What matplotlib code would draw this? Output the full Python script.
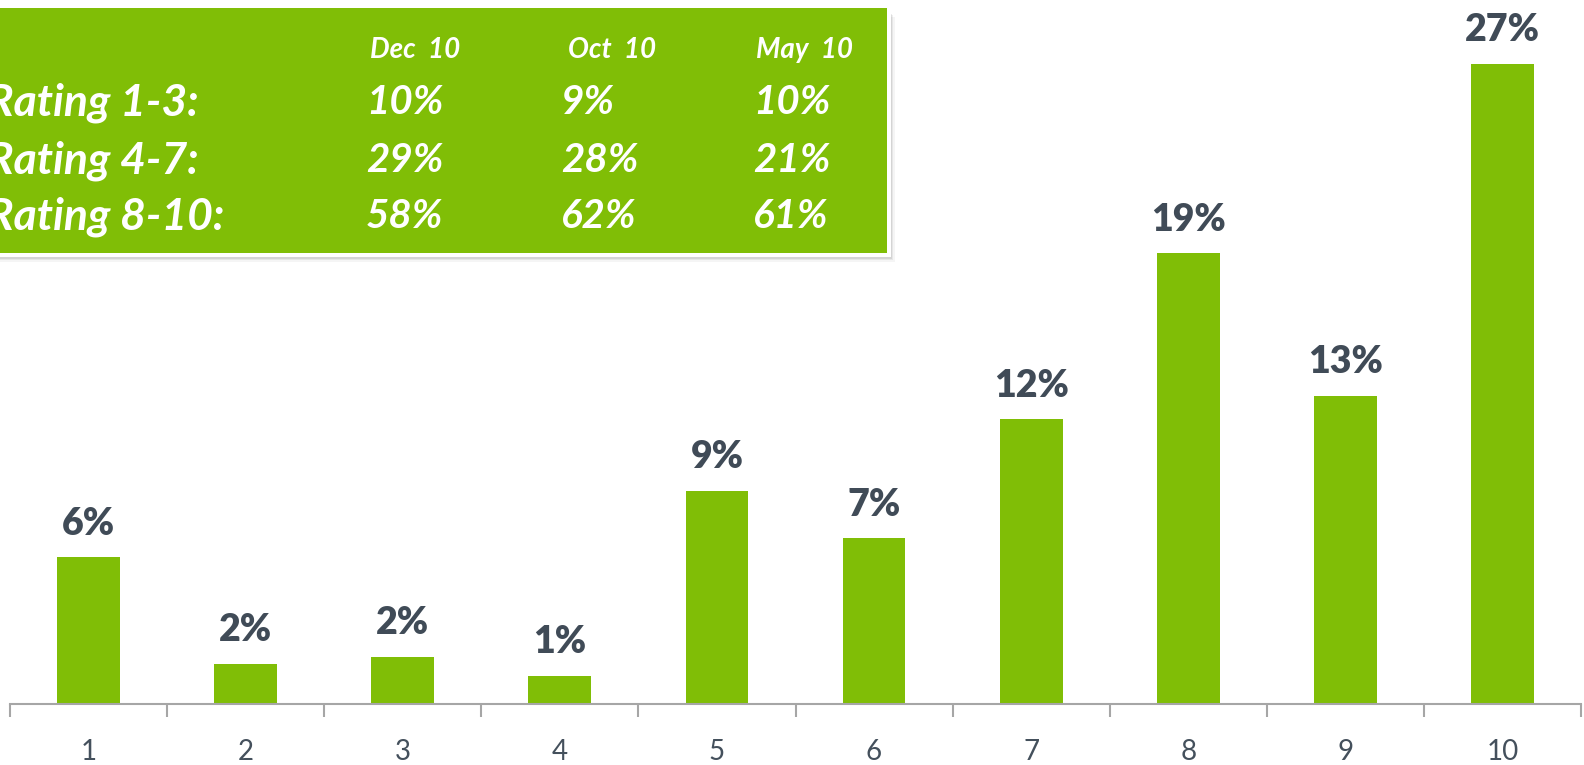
import matplotlib
matplotlib.use("Agg")
import matplotlib.pyplot as plt
from matplotlib.patches import Rectangle

# ---- data ----
categories = ["1", "2", "3", "4", "5", "6", "7", "8", "9", "10"]
values = [6.2, 1.7, 2.0, 1.2, 9.0, 7.0, 12.0, 19.0, 13.0, 27.0]
value_labels = ["6%", "2%", "2%", "1%", "9%", "7%", "12%", "19%", "13%", "27%"]

table_columns = ["Dec  10", "Oct  10", "May  10"]
table_rows = ["Rating 1-3:", "Rating 4-7:", "Rating 8-10:"]
table_dec = ["10%", "29%", "58%"]
table_oct = ["9%", "28%", "62%"]
table_may = ["10%", "21%", "61%"]

# ---- style ----
W, H = 1584, 765
DPI = 100
green = "#80BE06"
label_col = "#404B57"
tick_col = "#44505C"
axis_col = "#A6A6A6"
plt.rcParams["font.family"] = ["Lato", "DejaVu Sans"]

fig = plt.figure(figsize=(W / DPI, H / DPI), dpi=DPI)

def fx(px):
    return px / W

def fy(py):
    return 1 - py / H

# axes: x from 10 px to 1581 px, baseline at 704 px
base_px = 704
unit_px = (704 - 63.6) / 27.0
ax = fig.add_axes([fx(10), fy(base_px), fx(1581 - 10), base_px / H])
ax.set_ylim(0, base_px / unit_px)
ax.set_xlim(-0.5, len(categories) - 0.5)

x = list(range(len(categories)))
bars = ax.bar(x, values, width=0.4, color=green, zorder=2)
for b, lab in zip(bars, value_labels):
    ax.annotate(lab, (b.get_x() + b.get_width() / 2, b.get_height()),
                xytext=(0, 16), textcoords="offset points",
                ha="center", va="baseline", fontsize=27, fontweight="heavy",
                color=label_col)

for s in ["top", "right", "left"]:
    ax.spines[s].set_visible(False)
ax.spines["bottom"].set_color(axis_col)
ax.spines["bottom"].set_linewidth(1.5)
ax.set_yticks([])
ax.set_xticks(x)
ax.set_xticklabels(categories, fontsize=20, color=tick_col)
ax.tick_params(axis="x", length=0, pad=25)
# boundary tick marks
ax.set_xticks([i - 0.5 for i in range(len(categories) + 1)], minor=True)
ax.tick_params(axis="x", which="minor", length=9, width=1.5, color=axis_col)

# ---- summary table box ----
bx0, by0, bx1, by1 = -20, 8, 887, 253
for k, a in enumerate([0.10, 0.08, 0.06, 0.04]):
    off = 2 + k * 1.5
    fig.patches.append(Rectangle((fx(bx0 + off), fy(by1 + off + 2)),
                                 fx(bx1 - bx0 + 1), (by1 - by0) / H,
                                 transform=fig.transFigure, facecolor="black",
                                 edgecolor="none", alpha=a, zorder=5))
fig.patches.append(Rectangle((fx(bx0 - 4), fy(by1 + 4)), fx(bx1 - bx0 + 8),
                             (by1 - by0 + 8) / H, transform=fig.transFigure,
                             facecolor="white", edgecolor="none", zorder=6))
fig.patches.append(Rectangle((fx(bx0), fy(by1)), fx(bx1 - bx0),
                             (by1 - by0) / H, transform=fig.transFigure,
                             facecolor=green, edgecolor="none", zorder=7))

col_x = [366, 561, 753]
head_cx = [415, 612, 804]
row_y = [103, 161, 217]
for cx, txt in zip(head_cx, table_columns):
    fig.text(fx(cx), fy(50), txt, ha="center", va="center", fontsize=20,
             fontweight="bold", style="italic", color="white", zorder=8)
cols = [table_dec, table_oct, table_may]
for r, (ry, rl) in enumerate(zip(row_y, table_rows)):
    fig.text(fx(-13), fy(ry), rl, ha="left", va="center", fontsize=32,
             fontweight="bold", style="italic", color="white", zorder=8)
    for cx, col in zip(col_x, cols):
        fig.text(fx(cx), fy(ry), col[r], ha="left", va="center", fontsize=29,
                 fontweight="bold", style="italic", color="white", zorder=8)

fig.savefig("out.png", dpi=DPI)
